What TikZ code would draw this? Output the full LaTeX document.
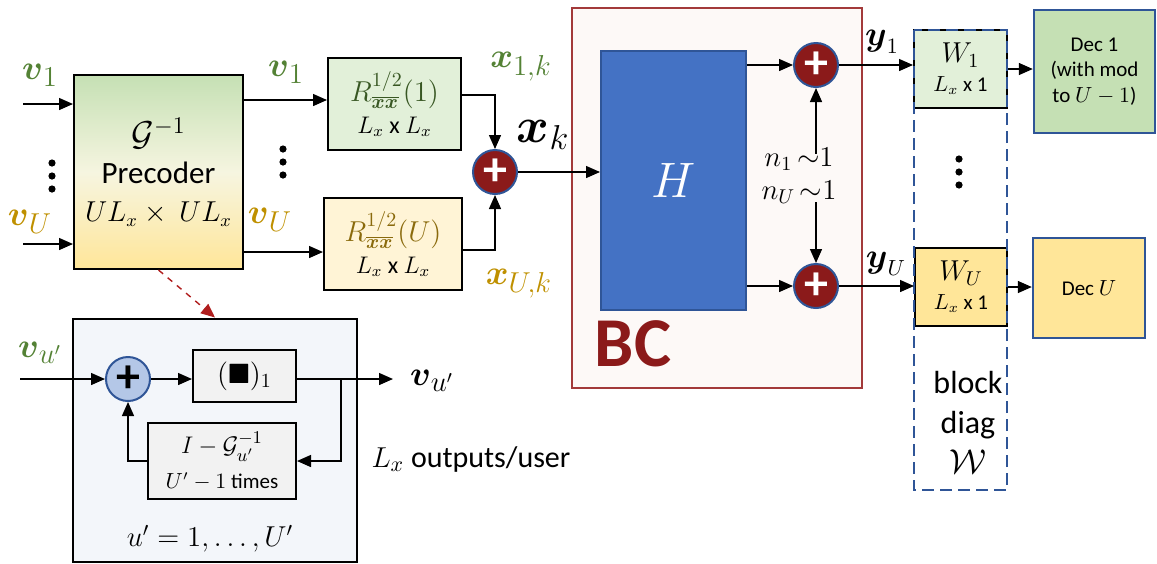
\documentclass[tikz,border=0pt]{standalone}
\usepackage{amsmath}
\usepackage{amssymb}
\usepackage{fontspec}
\setmainfont{Carlito}
\usetikzlibrary{calc, arrows.meta}
\definecolor{labGreen}{HTML}{548235}
\definecolor{labGold}{HTML}{BF9000}
\definecolor{txtGreen}{HTML}{385723}
\definecolor{txtGold}{HTML}{8A6A0C}
\definecolor{paleGreen}{HTML}{E2F0D9}
\definecolor{paleGold}{HTML}{FFF4D6}
\definecolor{midGreen}{HTML}{C5E0B4}
\definecolor{midGold}{HTML}{FFE699}
\definecolor{creamMid}{HTML}{F6F5E0}
\definecolor{adderRed}{HTML}{8B1A1A}
\definecolor{bcRed}{HTML}{A33A3A}
\definecolor{bcFill}{HTML}{FDF9F7}
\definecolor{lineBlue}{HTML}{2F5597}
\definecolor{chanBlue}{HTML}{4472C4}
\definecolor{insetFill}{HTML}{F3F6FA}
\definecolor{greyFill}{HTML}{F2F2F2}
\definecolor{lightBlue}{HTML}{B4C7E7}
\definecolor{dashRed}{HTML}{B01E1E}
\tikzset{
  box/.style    = {draw=black, line width=1pt, align=center, inner sep=0pt},
  decbox/.style = {draw=lineBlue, line width=1.2pt, align=center, inner sep=0pt,
                   font=\fontsize{10.5}{12.6}\selectfont},
  sumnode/.style= {circle, draw=lineBlue, line width=1pt, fill=adderRed, text=white,
                   inner sep=0pt, minimum size=22pt, font=\fontsize{24}{24}\selectfont\bfseries},
  fl/.style     = {-{Triangle[length=7pt,width=6pt]}, draw=black, line width=0.7pt},
  fld/.style    = {-{Triangle[length=7pt,width=6pt]}, draw=dashRed, line width=0.7pt, dashed},
  vlbl/.style   = {font=\fontsize{19}{20}\selectfont, inner sep=0pt},
  zone/.style   = {draw=lineBlue, line width=1.2pt, dash pattern=on 6pt off 3pt}
}
\newcommand{\vdotsat}[1]{\foreach \d in {-13,0,13} \fill ($(#1)+(0,\d)$) circle (1.8pt);}

\begin{document}
\begin{tikzpicture}[x=0.5pt, y=-0.5pt]
  \useasboundingbox (0,0) rectangle (1157,563);

  % precoder and per-user filters
  \node[box, top color=midGreen, bottom color=midGold, middle color=creamMid,
        minimum width=84.5pt, minimum height=97pt,
        font=\fontsize{15.5}{19}\selectfont] (pre) at (158.5,172)
        {{\fontsize{17}{19}\selectfont$\mathcal{G}^{-1}$}\\Precoder\\{\fontsize{13.5}{19}\selectfont$UL_x\times\ UL_x$}};
  \node[box, fill=paleGreen, minimum width=66.5pt, minimum height=46pt,
        font=\fontsize{12}{16}\selectfont] (r1) at (394.5,104)
        {{\fontsize{14.5}{16}\selectfont\textcolor{txtGreen}{$R^{1/2}_{\overline{\boldsymbol{x}\boldsymbol{x}}}(1)$}}\\$L_x$ x $L_x$};
  \node[box, fill=paleGold, minimum width=69pt, minimum height=46pt,
        font=\fontsize{12}{16}\selectfont] (ru) at (393,244)
        {{\fontsize{14.5}{16}\selectfont\textcolor{txtGold}{$R^{1/2}_{\overline{\boldsymbol{x}\boldsymbol{x}}}(U)$}}\\$L_x$ x $L_x$};
  \node[sumnode] (sum) at (495,172) {+};

  \node[vlbl, text=labGreen] (v1a) at (40,75) {$\boldsymbol{v}_1$};
  \node[vlbl, text=labGold]  (vua) at (30,222) {$\boldsymbol{v}_U$};
  \node[vlbl, text=labGreen] (v1b) at (286,72) {$\boldsymbol{v}_1$};
  \node[vlbl, text=labGold]  (vub) at (270,220) {$\boldsymbol{v}_U$};
  \coordinate (d1) at (52,176);
  \coordinate (d2) at (283,162);
  \vdotsat{d1}
  \vdotsat{d2}
  \node[vlbl, text=labGreen] (x1k) at (521,67) {$\boldsymbol{x}_{1,k}$};
  \node[vlbl, text=labGold]  (xuk) at (519,284) {$\boldsymbol{x}_{U,k}$};
  \node[vlbl, font=\fontsize{23}{24}\selectfont] (xk) at (543,135) {$\boldsymbol{x}_k$};

  \coordinate (in1) at (23,104);
  \coordinate (inu) at (23,244);
  \coordinate (p1) at (243,100);
  \coordinate (pu) at (243,252);
  \draw[fl] (in1) -- (in1 -| pre.west);
  \draw[fl] (inu) -- (inu -| pre.west);
  \draw[fl] (p1) -- (p1 -| r1.west);
  \draw[fl] (pu) -- (pu -| ru.west);
  \draw[fl] ([yshift=4.5pt]r1.east) -| (sum.north);
  \draw[fl] ([yshift=-3pt]ru.east) -| (sum.south);

  % broadcast channel
  \node[draw=bcRed, line width=1.2pt, fill=bcFill, minimum width=145pt,
        minimum height=190pt] (bc) at (717,198) {};
  \node[draw=lineBlue, line width=1pt, fill=chanBlue, minimum width=72.5pt,
        minimum height=129.5pt, text=white, font=\fontsize{23}{23}\selectfont] (H) at (673.5,180) {$H$};
  \node[text=adderRed, font=\fontsize{35}{35}\selectfont\bfseries] (bclbl) at (633,344) {BC};
  \node[sumnode] (add1) at (816,65) {+};
  \node[sumnode] (add2) at (816,286) {+};
  \node[align=center, inner sep=0pt, font=\fontsize{14}{16.5}\selectfont] (noise) at (799,176)
        {$n_1\,{\sim}1$\\$n_U\,{\sim}1$};

  \draw[fl] (sum) -- (sum -| H.west);
  \draw[fl] (add1 -| H.east) -- (add1);
  \draw[fl] (add2 -| H.east) -- (add2);
  \draw[fl] ([yshift=-3pt]noise.north -| add1) -- (add1);
  \draw[fl] ([yshift=1pt]noise.south -| add2) -- (add2);

  % receivers
  \node[box, fill=paleGreen, minimum width=46.5pt, minimum height=39pt,
        font=\fontsize{14.5}{14.5}\selectfont] (w1) at (960.5,69)
        {$W_1$\\{\fontsize{10.5}{12}\selectfont $L_x$ x 1}};
  \node[box, fill=midGold, minimum width=46pt, minimum height=39pt,
        font=\fontsize{14.5}{14.5}\selectfont] (wu) at (961,287)
        {$W_U$\\{\fontsize{10.5}{12}\selectfont $L_x$ x 1}};
  \draw[zone] (914,30) rectangle (1007,490);
  \coordinate (d3) at (959,172);
  \vdotsat{d3}
  \node[align=center, inner sep=0pt, font=\fontsize{16}{20}\selectfont] (wlbl) at (968,422)
        {block\\diag\\$\mathcal{W}$};
  \node[decbox, fill=midGreen, minimum width=60.5pt, minimum height=61.5pt] (dec1) at (1094.5,71.5)
        {Dec 1\\(with mod\\to $U-1$)};
  \node[decbox, fill=midGold, minimum width=56pt, minimum height=50pt] (decu) at (1089,288)
        {Dec $U$};
  \node[vlbl, font=\fontsize{16}{17}\selectfont] (y1) at (882,42) {$\boldsymbol{y}_1$};
  \node[vlbl, font=\fontsize{16}{17}\selectfont] (yu) at (886,264) {$\boldsymbol{y}_U$};

  \draw[fl] (add1) -- (add1 -| w1.west);
  \draw[fl] (add2) -- (add2 -| wu.west);
  \draw[fl] (w1.east) -- (w1.east -| dec1.west);
  \draw[fl] (wu.east) -- (wu.east -| decu.west);

  % inside the precoder
  \node[box, fill=insetFill, minimum width=142pt, minimum height=121.5pt] (inset) at (215,440) {};
  \node[circle, draw=lineBlue, line width=1pt, fill=lightBlue, inner sep=0pt, minimum size=22pt,
        font=\fontsize{24}{24}\selectfont\bfseries] (iadd) at (128,379) {+};
  \node[box, fill=greyFill, minimum width=51.5pt, minimum height=26pt,
        font=\fontsize{14}{14}\selectfont] (sq) at (244.5,376) {$(\blacksquare)_1$};
  \node[box, fill=greyFill, minimum width=74pt, minimum height=38pt,
        font=\fontsize{13}{17.5}\selectfont] (gi) at (222,461)
        {$I-\mathcal{G}_{u'}^{-1}$\\{\fontsize{10.5}{12}\selectfont $U'-1$ times}};
  \node[inner sep=0pt, font=\fontsize{14}{14}\selectfont] (urange) at (210,539) {$u'=1,\ldots,U'$};
  \node[vlbl, text=labGreen] (vin) at (40,353) {$\boldsymbol{v}_{u'}$};
  \node[vlbl] (vout) at (432,381) {$\boldsymbol{v}_{u'}$};
  \node[inner sep=0pt, font=\fontsize{15}{15}\selectfont] (lxout) at (471,459) {$L_x$ outputs/user};

  \coordinate (ia) at (20,379);
  \coordinate (ib) at (393,379);
  \coordinate (tap) at (341,379);
  \draw[fl] (ia) -- (iadd);
  \draw[fl] (iadd) -- (iadd -| sq.west);
  \draw[fl] (iadd -| sq.east) -- (ib);
  \draw[fl] (tap) |- (gi.east);
  \draw[fl] (gi.west) -| (iadd.south);
  \draw[fld] (pre.south) -- (inset.north);
\end{tikzpicture}
\end{document}
